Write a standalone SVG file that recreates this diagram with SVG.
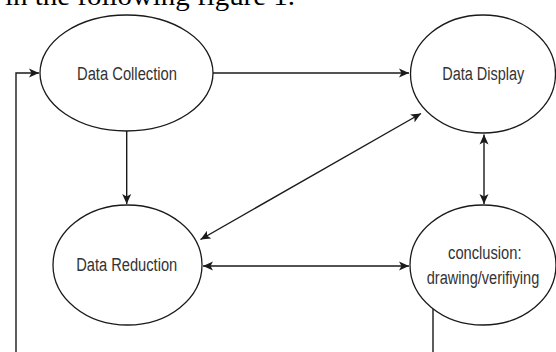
<svg xmlns="http://www.w3.org/2000/svg" width="556" height="352" viewBox="0 0 556 352">
  <style>
    .node ellipse { fill: #ffffff; stroke: #1a1a1a; stroke-width: 1.3; }
    .label { font-family: "Liberation Sans", Arial, sans-serif; font-size: 18px; fill: #333333; text-anchor: middle; }
    .edge { fill: none; stroke: #1a1a1a; stroke-width: 1.4; }
    .caption { font-family: "Liberation Serif", "Times New Roman", serif; font-size: 28px; fill: #000000; }
  </style>
  <defs>
    <marker id="arrow" markerUnits="userSpaceOnUse" markerWidth="12" markerHeight="10" refX="10" refY="5" orient="auto-start-reverse" viewBox="0 0 12 10">
      <path d="M0,0.5 L10,5 L0,9.5 L2.5,5 Z" fill="#1a1a1a"/>
    </marker>
  </defs>
  <rect width="556" height="352" fill="#ffffff"/>
  <text class="caption" x="5" y="5" textLength="290" lengthAdjust="spacingAndGlyphs">in the following figure 1.</text>

  <g id="connectors">
    <path class="edge" d="M213,73 L409,73" marker-end="url(#arrow)"/>
    <path class="edge" d="M126.7,131 L126.7,204" marker-end="url(#arrow)"/>
    <path class="edge" d="M484,134.5 L484,204" marker-start="url(#arrow)" marker-end="url(#arrow)"/>
    <path class="edge" d="M203,266 L409,266" marker-start="url(#arrow)" marker-end="url(#arrow)"/>
    <path class="edge" d="M200.5,239.5 L421,113.5" marker-start="url(#arrow)" marker-end="url(#arrow)"/>
    <path class="edge" d="M433,308.5 V362 H16 V73 H39" marker-end="url(#arrow)"/>
  </g>

  <g id="data-collection" class="node">
    <ellipse cx="126.5" cy="73" rx="86.5" ry="58"/>
    <text class="label" x="127" y="80" textLength="100" lengthAdjust="spacingAndGlyphs">Data Collection</text>
  </g>
  <g id="data-display" class="node">
    <ellipse cx="483" cy="74" rx="72.5" ry="59"/>
    <text class="label" x="483.3" y="79.5" textLength="82" lengthAdjust="spacingAndGlyphs">Data Display</text>
  </g>
  <g id="data-reduction" class="node">
    <ellipse cx="127.5" cy="265" rx="74.5" ry="60"/>
    <text class="label" x="126.7" y="271" textLength="101" lengthAdjust="spacingAndGlyphs">Data Reduction</text>
  </g>
  <g id="conclusion" class="node">
    <ellipse cx="483" cy="265" rx="73" ry="60"/>
    <text class="label" x="484.8" y="259" textLength="73.5" lengthAdjust="spacingAndGlyphs">conclusion:</text>
    <text class="label" x="483" y="283.5" textLength="112.5" lengthAdjust="spacingAndGlyphs">drawing/verifiying</text>
  </g>
</svg>
